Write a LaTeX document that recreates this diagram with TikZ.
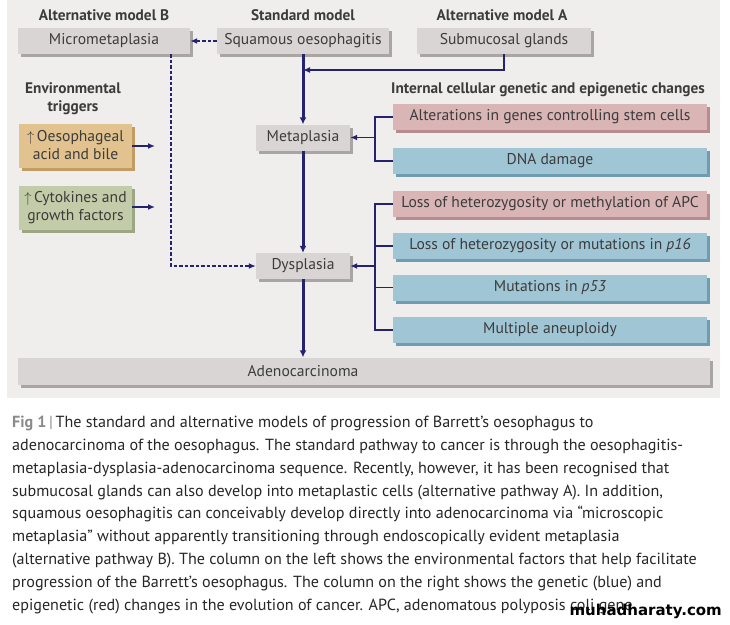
\documentclass[tikz,border=0pt]{standalone}
\usepackage{fontspec}
\setmainfont{PT Sans}
\newfontfamily\wmfont{DejaVu Sans}
\usetikzlibrary{arrows.meta,shadows}
\definecolor{panelbg}{HTML}{EFEEEC}
\definecolor{boxgray}{HTML}{D8D5D4}
\definecolor{boxgrayshade}{HTML}{A9A5A3}
\definecolor{boxred}{HTML}{D9B5B6}
\definecolor{boxredshade}{HTML}{B88C8F}
\definecolor{boxblue}{HTML}{A0C5D5}
\definecolor{boxblueshade}{HTML}{6E9DB1}
\definecolor{boxtan}{HTML}{E2C28E}
\definecolor{boxtanshade}{HTML}{C29C63}
\definecolor{boxgreen}{HTML}{C3CCA8}
\definecolor{boxgreenshade}{HTML}{9DA683}
\definecolor{navy}{HTML}{25236E}
\definecolor{txtgray}{HTML}{3C3C3C}
\definecolor{figgray}{HTML}{8A8A8A}
\tikzset{
  box/.style       = {shape=rectangle, inner sep=2pt, text=txtgray,
                      minimum height=26pt, font=\fontsize{15.6}{17}\selectfont},
  greybox/.style   = {box, fill=boxgray,
                      general shadow={fill=boxgrayshade, shadow xshift=3pt, shadow yshift=-3pt}},
  redbox/.style    = {box, fill=boxred, minimum width=314pt,
                      general shadow={fill=boxredshade, shadow xshift=3pt, shadow yshift=-3pt}},
  bluebox/.style   = {box, fill=boxblue, minimum width=314pt,
                      general shadow={fill=boxblueshade, shadow xshift=3pt, shadow yshift=-3pt}},
  envbox/.style    = {box, align=center, minimum width=113pt, minimum height=44pt,
                      font=\fontsize{15.6}{18}\selectfont},
  tanbox/.style    = {envbox, fill=boxtan,
                      general shadow={fill=boxtanshade, shadow xshift=3pt, shadow yshift=-3pt}},
  greenbox/.style  = {envbox, fill=boxgreen,
                      general shadow={fill=boxgreenshade, shadow xshift=3pt, shadow yshift=-3pt}},
  header/.style    = {text=txtgray, align=center, font=\bfseries\fontsize{15.3}{18}\selectfont},
  mainline/.style  = {draw=navy, line width=3pt, -{Latex[length=7pt,width=7pt]}},
  conn/.style      = {draw=navy, line width=1.6pt},
  connarrow/.style = {conn, -{Latex[length=7pt,width=6pt]}},
  dotconn/.style   = {draw=navy, line width=1.6pt, dash pattern=on 3.5pt off 2pt,
                      -{Latex[length=7pt,width=6pt]}},
  caption/.style   = {text=black!85, align=left, inner sep=0pt,
                      font=\fontsize{16.1}{22.8}\selectfont}
}
\begin{document}
\begin{tikzpicture}[x=1pt, y=-1pt]
  \useasboundingbox (0,0) rectangle (730,624);
  \fill[panelbg] (7,0) rectangle (720,398);

  % column headers
  \node[header] (hB)   at (104,15)  {Alternative model B};
  \node[header] (hstd) at (303,15)  {Standard model};
  \node[header] (hA)   at (502,15)  {Alternative model A};
  \node[header] (henv) at (73,99)   {Environmental\\triggers};
  \node[header] (hint) at (548,90)  {Internal cellular genetic and epigenetic changes};

  % top row
  \node[greybox, minimum width=172pt] (micro) at (104,41)   {Micrometaplasia};
  \node[greybox, minimum width=172pt] (squam) at (303,41)   {Squamous oesophagitis};
  \node[greybox, minimum width=174pt] (sub)   at (504,41)   {Submucosal glands};

  % standard sequence
  \node[greybox, minimum width=94pt] (meta) at (303,137.5) {Metaplasia};
  \node[greybox, minimum width=94pt] (dys)  at (303,266)   {Dysplasia};
  \node[greybox, minimum width=692pt, minimum height=27pt] (adeno) at (364,371) {};
  \node[text=txtgray, font=\fontsize{15.6}{17}\selectfont] (adenolbl) at (303,371) {Adenocarcinoma};

  % environmental triggers
  \node[tanbox]   (acid) at (75.5,145.5) {$\uparrow$\,Oesophageal\\acid and bile};
  \node[greenbox] (cyto) at (75.5,207.5) {$\uparrow$\,Cytokines and\\growth factors};
  \coordinate (acidend) at (155,146);
  \coordinate (cytoend) at (155,207);

  % internal changes
  \node[redbox]  (stem) at (550,117)   {Alterations in genes controlling stem cells};
  \node[bluebox] (dna)  at (550,161)   {DNA damage};
  \node[redbox]  (apc)  at (550,204)   {Loss of heterozygosity or methylation of APC};
  \node[bluebox] (p16)  at (550,246)   {Loss of heterozygosity or mutations in \textit{p16}};
  \node[bluebox] (p53)  at (550,287.5) {Mutations in \textit{p53}};
  \node[bluebox] (aneu) at (550,330)   {Multiple aneuploidy};

  % helper points
  \coordinate (join)  at (303,70);
  \coordinate (bx)    at (375,0);
  \coordinate (mturn) at (171,266);

  % standard pathway
  \draw[mainline] (squam.south) -- (meta.north);
  \draw[mainline] (meta.south) -- (dys.north);
  \draw[mainline] (dys.south) -- (dys.south |- adeno.north);

  % alternative pathway A
  \draw[connarrow] (sub.south) |- (join);

  % alternative pathway B
  \draw[dotconn] (squam.west) -- (micro.east);
  \draw[dotconn] (micro.south -| mturn) |- (dys.west);

  % environmental arrows
  \draw[connarrow] (acid.east |- acidend) -- (acidend);
  \draw[connarrow] (cyto.east |- cytoend) -- (cytoend);

  % brackets to metaplasia and dysplasia
  \draw[conn] (stem.west) -| (bx |- dna.west) -- (dna.west);
  \draw[connarrow] (bx |- meta.east) -- (meta.east);
  \draw[conn] (apc.west) -| (bx |- aneu.west) -- (aneu.west);
  \draw[conn] (bx |- p16.west) -- (p16.west);
  \draw[conn] (bx |- p53.west) -- (p53.west);
  \draw[connarrow] (bx |- dys.east) -- (dys.east);

  % caption
  \node[caption, anchor=north west] (cap) at (12,416)
    {{\bfseries\color{figgray}Fig 1}\,{\color{figgray}|}\,The standard and alternative models of progression of Barrett’s oesophagus to\\
     adenocarcinoma of the oesophagus. The standard pathway to cancer is through the oesophagitis-\\
     metaplasia-dysplasia-adenocarcinoma sequence. Recently, however, it has been recognised that\\
     submucosal glands can also develop into metaplastic cells (alternative pathway A). In addition,\\
     squamous oesophagitis can conceivably develop directly into adenocarcinoma via “microscopic\\
     metaplasia” without apparently transitioning through endoscopically evident metaplasia\\
     (alternative pathway B). The column on the left shows the environmental factors that help facilitate\\
     progression of the Barrett’s oesophagus. The column on the right shows the genetic (blue) and\\
     epigenetic (red) changes in the evolution of cancer. APC, adenomatous polyposis coli gene};
  \node[font=\wmfont\bfseries\fontsize{15}{17}\selectfont, anchor=east, inner sep=0pt] (wm) at (722,611) {muhadharaty.com};
\end{tikzpicture}
\end{document}
